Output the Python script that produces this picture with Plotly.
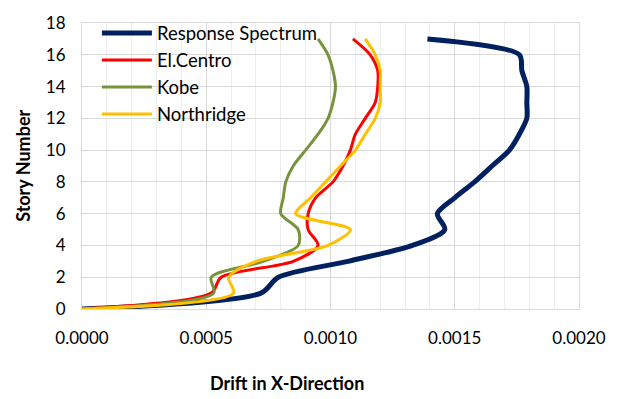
import plotly.graph_objects as go

stories = list(range(0, 18))

response_spectrum = [0, 0.00072, 0.00079, 0.00107, 0.00133, 0.00146, 0.00143, 0.00150,
                     0.00158, 0.00165, 0.00172, 0.00176, 0.00179, 0.00179, 0.00179,
                     0.00177, 0.00176, 0.00139]
el_centro = [0, 0.00052, 0.00056, 0.00085, 0.00095, 0.00091, 0.00091, 0.00094,
             0.00101, 0.00105, 0.00108, 0.00110, 0.00114, 0.00118, 0.00119,
             0.00119, 0.00116, 0.00109]
kobe = [0, 0.00053, 0.00052, 0.00073, 0.00087, 0.00087, 0.00080, 0.00081,
        0.00082, 0.00085, 0.00090, 0.00095, 0.00099, 0.00101, 0.00102,
        0.00101, 0.00099, 0.00095]
northridge = [0, 0.00061, 0.00059, 0.00070, 0.00099, 0.00108, 0.00086, 0.00092,
              0.00098, 0.00104, 0.00110, 0.00114, 0.00118, 0.00120, 0.00120,
              0.00120, 0.00118, 0.00114]

series = [
    ("Response Spectrum", response_spectrum, "#002060", 5),
    ("El.Centro", el_centro, "#FF0000", 3),
    ("Kobe", kobe, "#77933C", 3),
    ("Northridge", northridge, "#FFC000", 3),
]

FONT = "Lato"

fig = go.Figure()
for name, vals, color, w in series:
    fig.add_trace(go.Scatter(
        x=vals, y=stories, name=name, mode="lines",
        line=dict(color=color, width=w, shape="spline", smoothing=0.8),
    ))

fig.update_layout(
    width=618, height=399,
    margin=dict(l=82, r=32, t=18, b=90),
    paper_bgcolor="white", plot_bgcolor="white",
    font=dict(family=FONT, size=17, color="#000000"),
    showlegend=True,
    legend=dict(x=0.03, y=1.03, xanchor="left", yanchor="top",
                bgcolor="rgba(0,0,0,0)", font=dict(family=FONT, size=18.5),
                tracegroupgap=0, itemwidth=50),
    xaxis=dict(
        range=[0, 0.002], dtick=0.0005, tick0=0, tickformat=".4f",
        showgrid=True, gridcolor="#D9D9D9", gridwidth=1,
        minor=dict(dtick=0.0001, showgrid=True, gridcolor="#EEEEEE", gridwidth=1),
        showline=True, linecolor="#D9D9D9", linewidth=1, mirror=True,
        ticks="", zeroline=False, ticklabelstandoff=14,
    ),
    yaxis=dict(
        range=[0, 18], dtick=2, tick0=0,
        showgrid=True, gridcolor="#D9D9D9", gridwidth=1,
        showline=True, linecolor="#D9D9D9", linewidth=1, mirror=True,
        ticks="", zeroline=False, ticklabelstandoff=12,
    ),
    annotations=[
        dict(text="<b>Drift in X-Direction</b>", xref="paper", yref="paper",
             x=(290 - 82) / 504, y=-0.303, xanchor="center", yanchor="bottom",
             showarrow=False, font=dict(family=FONT, size=18)),
        dict(text="<b>Story Number</b>", xref="paper", yref="paper",
             x=(22 - 82) / 504, y=0.5, xanchor="center", yanchor="middle", textangle=-90,
             showarrow=False, font=dict(family=FONT, size=18)),
    ],
)

fig.write_html("out.html")
